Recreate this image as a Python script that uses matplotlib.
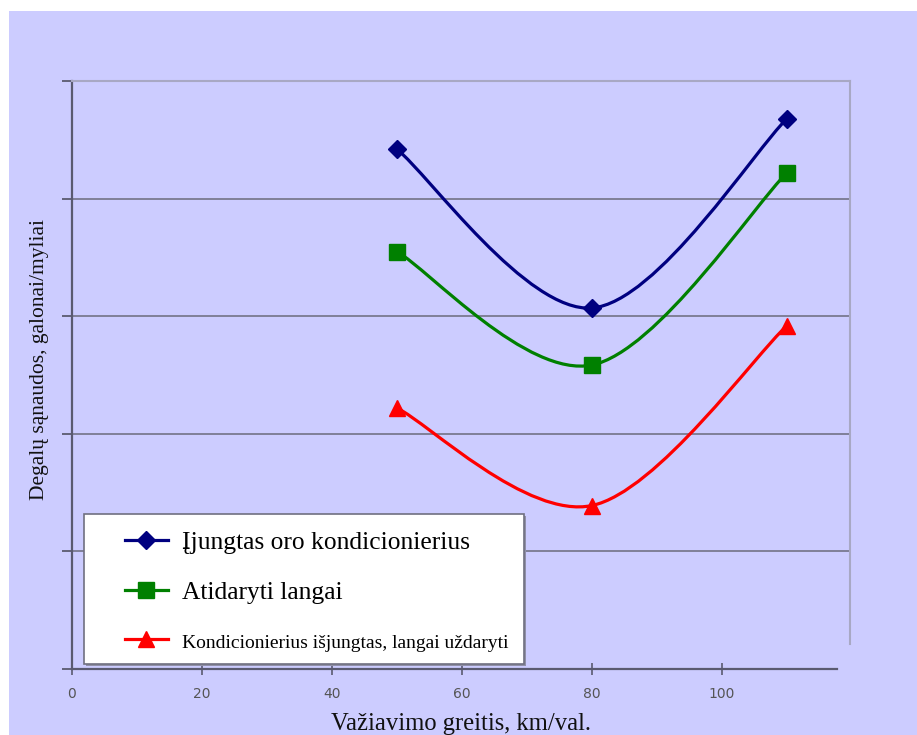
import matplotlib
matplotlib.use("Agg")
import matplotlib.pyplot as plt
from matplotlib.path import Path
from matplotlib.patches import PathPatch, Rectangle
from matplotlib.lines import Line2D

# speed (km/h) and fuel use per mode, unitless scale 0..5
speed = [50, 80, 110]
ac_on = [4.42, 3.07, 4.68]
windows_open = [3.55, 2.585, 4.22]
ac_off = [2.22, 1.39, 2.92]

labels = ["Įjungtas oro kondicionierius",
          "Atidaryti langai",
          "Kondicionierius išjungtas, langai uždaryti"]
colors = ["#000080", "#008000", "#FF0000"]
markers = ["D", "s", "^"]
msizes = [9, 11, 11]

x_ticks = [0, 20, 40, 60, 80, 100]

W, H = 917, 735
BG = "#CCCCFF"
SERIF = ["Liberation Serif", "DejaVu Serif"]


def smooth_path(xs, ys):
    # spreadsheet-style smoothed line: cubic bezier, catmull-rom tangents
    pts = list(zip(xs, ys))
    n = len(pts)
    verts = [pts[0]]
    codes = [Path.MOVETO]
    for i in range(n - 1):
        p0 = pts[max(i - 1, 0)]
        p1 = pts[i]
        p2 = pts[i + 1]
        p3 = pts[min(i + 2, n - 1)]
        c1 = (p1[0] + (p2[0] - p0[0]) / 6, p1[1] + (p2[1] - p0[1]) / 6)
        c2 = (p2[0] - (p3[0] - p1[0]) / 6, p2[1] - (p3[1] - p1[1]) / 6)
        verts += [c1, c2, p2]
        codes += [Path.CURVE4] * 3
    return Path(verts, codes)


fig = plt.figure(figsize=(W / 100, H / 100), dpi=100, facecolor="white")
fig.patches.append(Rectangle((9 / W, 0), 1, (H - 11) / H, transform=fig.transFigure,
                             facecolor=BG, edgecolor="none", zorder=-10))

ax = fig.add_axes([72 / W, (H - 669) / H, (850 - 72) / W, (669 - 81) / H])
ax.set_facecolor(BG)
ax.set_xlim(0, 119.7)
ax.set_ylim(0, 5)

for vals, c, m, ms in zip([ac_on, windows_open, ac_off], colors, markers, msizes):
    ax.add_patch(PathPatch(smooth_path(speed, vals), facecolor="none", edgecolor=c,
                           lw=2.3, capstyle="round", zorder=3))
    ax.plot(speed, vals, linestyle="none", marker=m, markersize=ms, color=c, zorder=4,
            clip_on=False)

# horizontal grid
for yv in [1, 2, 3, 4]:
    ax.axhline(yv, color="#7A7A90", lw=1.3, zorder=1)

ax.spines["left"].set_color("#5A5A70")
ax.spines["left"].set_linewidth(1.6)
ax.spines["bottom"].set_color("#5A5A70")
ax.spines["bottom"].set_linewidth(1.6)
ax.spines["bottom"].set_bounds(0, 117.7)
ax.spines["top"].set_color("#A8A8C4")
ax.spines["top"].set_linewidth(1.5)
ax.spines["right"].set_color("#A8A8C4")
ax.spines["right"].set_linewidth(1.5)
ax.spines["right"].set_bounds(0.21, 5)

ax.set_yticks([0, 1, 2, 3, 4, 5])
ax.set_yticklabels([])
ax.tick_params(axis="y", direction="out", length=7, width=1.3, color="#5A5A70", right=False)
ax.set_xticks(x_ticks)
ax.set_xticklabels([str(t) for t in x_ticks])
ax.tick_params(axis="x", direction="inout", length=8, width=1.2, color="#5A5A70",
               labelsize=10, labelcolor="#555555", pad=9, top=False)

fig.text(40 / W, 1 - 360 / H, "Degalų sąnaudos, galonai/myliai", rotation=90,
         ha="center", va="center", family=SERIF, fontsize=15.5, color="#111111")
fig.text(461 / W, 1 - 724 / H, "Važiavimo greitis, km/val.", ha="center", va="center",
         family=SERIF, fontsize=17.7, color="#111111")

# legend box with a soft shadow
fig.patches.append(Rectangle((86 / W, 1 - 666 / H), (524 - 84) / W, (664 - 514) / H,
                             transform=fig.transFigure, facecolor="#9090A8",
                             edgecolor="none", zorder=5))
fig.patches.append(Rectangle((84 / W, 1 - 664 / H), (524 - 84) / W, (664 - 514) / H,
                             transform=fig.transFigure, facecolor="white",
                             edgecolor="#707080", lw=1.2, zorder=6))

handles = [Line2D([], [], color=c, lw=2.3, marker=m, markersize=ms)
           for c, m, ms in zip(colors, markers, msizes)]
leg = fig.legend(handles, labels, loc="upper left", bbox_to_anchor=(125 / W, 1 - 531 / H),
                 frameon=False, prop={"family": SERIF, "size": 18.4},
                 handlelength=1.68, handletextpad=0.55, labelspacing=1.05,
                 borderpad=0, borderaxespad=0)
leg.set_zorder(7)
leg.get_texts()[2].set_fontsize(14)

fig.savefig("out.png", dpi=100, facecolor="white")
